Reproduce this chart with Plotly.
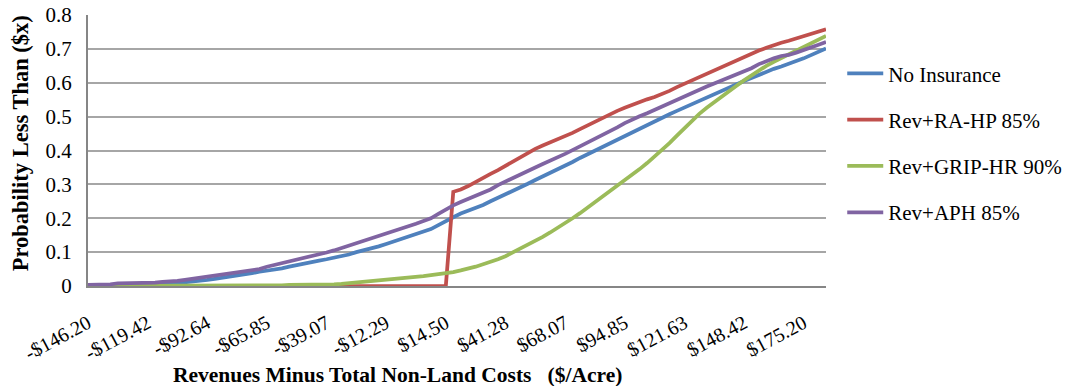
import plotly.graph_objects as go

# Category axis: revenues minus total non-land costs ($/acre), 100 points
x_start = -146.20
x_step = 3.3475
n_points = 100
x_vals = [round(x_start + i * x_step, 4) for i in range(n_points)]

tick_vals = [-146.20, -119.42, -92.64, -65.85, -39.07, -12.29, 14.50,
             41.28, 68.07, 94.85, 121.63, 148.42, 175.20]
tick_text = ["-$146.20", "-$119.42", "-$92.64", "-$65.85", "-$39.07", "-$12.29",
             "$14.50", "$41.28", "$68.07", "$94.85", "$121.63", "$148.42", "$175.20"]

series_names = ["No Insurance", "Rev+RA-HP 85%", "Rev+GRIP-HR 90%", "Rev+APH 85%"]

no_insurance = [
    0, 0, 0, 0, 0, 0.002, 0.002, 0.003, 0.003, 0.004,
    0.005, 0.006, 0.008, 0.010, 0.013, 0.015, 0.018, 0.021, 0.024, 0.027,
    0.031, 0.034, 0.038, 0.042, 0.045, 0.048, 0.052, 0.057, 0.062, 0.066,
    0.070, 0.075, 0.079, 0.083, 0.088, 0.093, 0.100, 0.105, 0.110, 0.117,
    0.124, 0.131, 0.138, 0.146, 0.153, 0.160, 0.168, 0.180, 0.190, 0.203,
    0.214, 0.222, 0.231, 0.239, 0.250, 0.260, 0.271, 0.282, 0.292, 0.302,
    0.313, 0.323, 0.333, 0.344, 0.356, 0.366, 0.378, 0.389, 0.400, 0.410,
    0.420, 0.431, 0.443, 0.453, 0.464, 0.474, 0.485, 0.497, 0.507, 0.517,
    0.527, 0.537, 0.547, 0.557, 0.567, 0.576, 0.586, 0.596, 0.605, 0.614,
    0.624, 0.633, 0.641, 0.648, 0.655, 0.664, 0.672, 0.681, 0.691, 0.701,
]

rev_ra_hp = [
    0, 0, 0, 0, 0, 0, 0, 0, 0, 0,
    0, 0, 0, 0, 0, 0, 0, 0, 0, 0,
    0, 0, 0, 0, 0, 0, 0, 0, 0, 0,
    0, 0, 0, 0, 0, 0, 0, 0, 0, 0,
    0, 0, 0, 0, 0, 0, 0, 0, 0, 0.278,
    0.285, 0.295, 0.308, 0.320, 0.331, 0.342, 0.355, 0.368, 0.381, 0.395,
    0.405, 0.415, 0.424, 0.431, 0.440, 0.452, 0.463, 0.474, 0.485, 0.496,
    0.507, 0.517, 0.526, 0.535, 0.544, 0.551, 0.558, 0.566, 0.576, 0.587,
    0.597, 0.608, 0.618, 0.627, 0.637, 0.647, 0.658, 0.668, 0.677, 0.686,
    0.695, 0.703, 0.711, 0.718, 0.724, 0.731, 0.738, 0.744, 0.751, 0.758,
]

rev_grip_hr = [
    0, 0, 0, 0, 0, 0, 0, 0, 0, 0,
    0, 0, 0, 0, 0, 0, 0, 0, 0, 0,
    0, 0, 0, 0, 0, 0, 0.002, 0.003, 0.003, 0.004,
    0.004, 0.005, 0.005, 0.005, 0.006, 0.008, 0.010, 0.012, 0.014, 0.016,
    0.018, 0.019, 0.021, 0.024, 0.027, 0.029, 0.032, 0.035, 0.037, 0.041,
    0.046, 0.051, 0.057, 0.064, 0.071, 0.079, 0.088, 0.099, 0.111, 0.122,
    0.132, 0.145, 0.158, 0.171, 0.185, 0.200, 0.215, 0.231, 0.246, 0.262,
    0.279, 0.296, 0.313, 0.328, 0.345, 0.363, 0.382, 0.401, 0.422, 0.444,
    0.466, 0.488, 0.508, 0.526, 0.543, 0.559, 0.575, 0.591, 0.607, 0.622,
    0.637, 0.650, 0.662, 0.673, 0.683, 0.693, 0.703, 0.714, 0.726, 0.738,
]

rev_aph = [
    0.003, 0.003, 0.003, 0.005, 0.008, 0.008, 0.008, 0.010, 0.010, 0.010,
    0.012, 0.013, 0.015, 0.018, 0.021, 0.025, 0.027, 0.030, 0.033, 0.036,
    0.039, 0.042, 0.046, 0.050, 0.057, 0.062, 0.067, 0.072, 0.078, 0.083,
    0.088, 0.093, 0.099, 0.105, 0.112, 0.119, 0.126, 0.133, 0.140, 0.148,
    0.155, 0.162, 0.169, 0.177, 0.184, 0.192, 0.200, 0.213, 0.226, 0.238,
    0.248, 0.257, 0.266, 0.275, 0.285, 0.298, 0.309, 0.320, 0.331, 0.341,
    0.350, 0.360, 0.369, 0.378, 0.390, 0.401, 0.412, 0.423, 0.434, 0.444,
    0.455, 0.468, 0.481, 0.492, 0.501, 0.510, 0.520, 0.531, 0.542, 0.552,
    0.561, 0.570, 0.580, 0.589, 0.598, 0.607, 0.617, 0.626, 0.634, 0.643,
    0.655, 0.664, 0.672, 0.679, 0.682, 0.689, 0.696, 0.704, 0.712, 0.720,
]

series_values = [no_insurance, rev_ra_hp, rev_grip_hr, rev_aph]
colors = ["#4F81BD", "#C0504D", "#9BBB59", "#8064A2"]

FONT = "Liberation Serif"

fig = go.Figure()
for name, vals, col in zip(series_names, series_values, colors):
    fig.add_trace(go.Scatter(
        x=x_vals, y=vals, mode="lines", name=name,
        legendgroup=name,
        line=dict(color=col, width=3.75),
    ))

fig.update_layout(
    width=1071, height=386,
    margin=dict(l=88, r=245, t=15, b=100, autoexpand=False),
    paper_bgcolor="white", plot_bgcolor="white",
    font=dict(family=FONT, size=20, color="black"),
    showlegend=True,
    legend=dict(
        x=1.022, xanchor="left", y=0.859, yanchor="top",
        font=dict(family=FONT, size=21, color="black"),
        tracegroupgap=16, traceorder="grouped",
        bgcolor="rgba(0,0,0,0)", itemwidth=36,
    ),
    xaxis=dict(
        range=[x_start, x_vals[-1]],
        tickmode="array", tickvals=tick_vals, ticktext=tick_text,
        tickangle=-28, showgrid=False, zeroline=False,
        showline=True, linecolor="#868686", linewidth=2,
        ticks="", ticklabelstandoff=16,
        tickfont=dict(family=FONT, size=20, color="black"),
    ),
    yaxis=dict(
        range=[0, 0.8], dtick=0.1, tick0=0,
        showgrid=True, gridcolor="#A6A6A6", gridwidth=1.5,
        zeroline=False, showline=True, linecolor="#868686", linewidth=2,
        ticks="", ticklabelstandoff=10,
        tickfont=dict(family=FONT, size=21, color="black"),
    ),
    annotations=[
        dict(text="<b>Probability Less Than ($x)</b>", textangle=-90,
             xref="paper", yref="paper", x=-0.092, y=0.527,
             xanchor="center", yanchor="middle", showarrow=False,
             font=dict(family=FONT, size=22.5, color="black")),
        dict(text="<b>Revenues Minus Total Non-Land Costs \u00a0\u00a0($/Acre)</b>",
             xref="paper", yref="paper", x=0.42, y=-0.33,
             xanchor="center", yanchor="middle", showarrow=False,
             font=dict(family=FONT, size=21.5, color="black")),
    ],
)

fig.write_html("out.html")
